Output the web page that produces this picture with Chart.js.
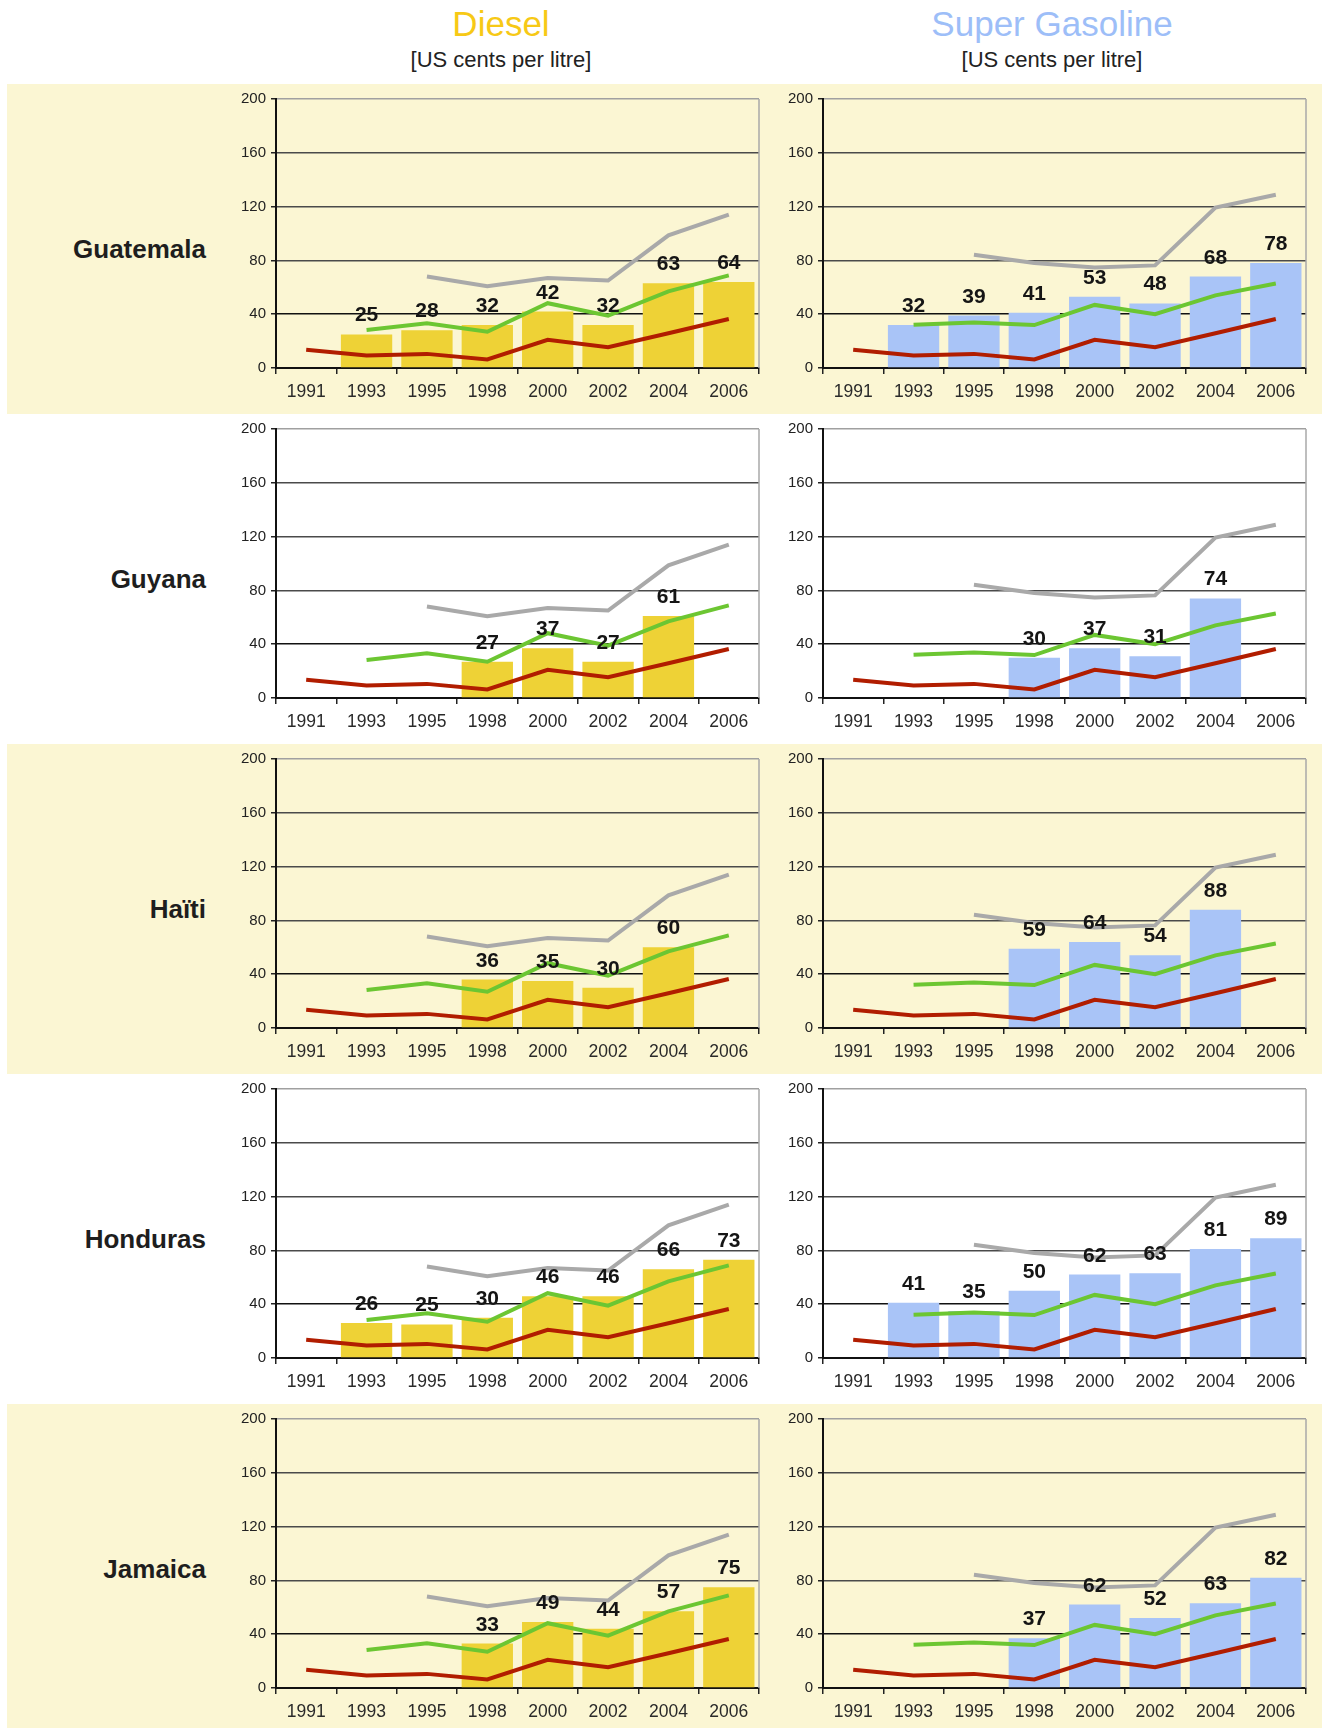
<!DOCTYPE html>
<html>
<head>
<meta charset="utf-8">
<script src="https://cdn.jsdelivr.net/npm/chart.js@4.4.1/dist/chart.umd.min.js"></script>
<style>
  html, body { margin: 0; padding: 0; background: #ffffff; }
  body { width: 1328px; height: 1728px; position: relative; overflow: hidden; font-family: "Liberation Sans", Arial, Helvetica, sans-serif; }
  .row-bg { position: absolute; left: 7px; width: 1315px; height: 330px; background: #FBF6D3; }
  .title { position: absolute; top: 3px; width: 400px; text-align: center; font-size: 35px; line-height: 42px; }
  .subtitle { position: absolute; top: 46px; width: 400px; text-align: center; font-size: 22px; line-height: 28px; color: #222; }
  .country { position: absolute; left: 0; width: 206px; text-align: right; font-size: 26px; font-weight: bold; color: #1e1e1e; line-height: 30px; }
  canvas { position: absolute; }
</style>
</head>
<body>
<div class="title" style="left:301px;color:#F7C916;">Diesel</div>
<div class="subtitle" style="left:301px;">[US cents per litre]</div>
<div class="title" style="left:852px;color:#9DBEF8;">Super Gasoline</div>
<div class="subtitle" style="left:852px;">[US cents per litre]</div>
<script>
// ---------- DATA ----------
const years = ['1991', '1993', '1995', '1998', '2000', '2002', '2004', '2006'];
const yTicks = [0, 40, 80, 120, 160, 200];
const countries = ['Guatemala', 'Guyana', 'Haïti', 'Honduras', 'Jamaica'];

// reference lines (same in every panel)
const redLine     = [13.5, 9.3, 10.5, 6.4, 21, 15.5, 25.8, 36.4];
const greenDiesel = [null, 28.3, 33.2, 27, 48.2, 38.9, 57, 68.9];
const greyDiesel  = [null, null, 68.1, 60.8, 66.9, 65, 98.6, 114];
const greenGas    = [null, 32.1, 33.9, 31.9, 46.9, 40, 54, 62.8];
const greyGas     = [null, null, 84.2, 78, 74.8, 76.3, 119.3, 128.8];

// bars
const dieselGuatemala = [null, 25, 28, 32, 42, 32, 63, 64];
const gasGuatemala    = [null, 32, 39, 41, 53, 48, 68, 78];
const dieselGuyana    = [null, null, null, 27, 37, 27, 61, null];
const gasGuyana       = [null, null, null, 30, 37, 31, 74, null];
const dieselHaiti     = [null, null, null, 36, 35, 30, 60, null];
const gasHaiti        = [null, null, null, 59, 64, 54, 88, null];
const dieselHonduras  = [null, 26, 25, 30, 46, 46, 66, 73];
const gasHonduras     = [null, 41, 35, 50, 62, 63, 81, 89];
const dieselJamaica   = [null, null, null, 33, 49, 44, 57, 75];
const gasJamaica      = [null, null, null, 37, 62, 52, 63, 82];

const dieselBars = [dieselGuatemala, dieselGuyana, dieselHaiti, dieselHonduras, dieselJamaica];
const gasBars    = [gasGuatemala, gasGuyana, gasHaiti, gasHonduras, gasJamaica];

// ---------- STYLE ----------
const FONT = '"Liberation Sans", Arial, Helvetica, sans-serif';
const DIESEL_BAR = '#EED236';
const GAS_BAR = '#A9C4F7';
const RED = '#B11D00';
const GREEN = '#6CC632';
const GREY = '#A9A9A9';

const ROW_TOP0 = 84, ROW_H = 330;
const PAD_TOP = 12, PAD_RIGHT = 12, YAXIS_W = 50, XAXIS_H = 40, PLOT_H = 271;
const CANVAS_W = YAXIS_W + 483 + PAD_RIGHT;
const CANVAS_H = PAD_TOP + PLOT_H + XAXIS_H;

Chart.defaults.font.family = FONT;
Chart.defaults.animation = false;

const borderPlugin = {
  id: 'rightBorder',
  beforeDatasetsDraw(chart) {
    const { ctx, chartArea } = chart;
    ctx.save();
    ctx.strokeStyle = '#A8A8A8';
    ctx.lineWidth = 1.5;
    ctx.beginPath();
    ctx.moveTo(chartArea.right, chartArea.top);
    ctx.lineTo(chartArea.right, chartArea.bottom);
    ctx.stroke();
    ctx.restore();
  }
};

const labelPlugin = {
  id: 'barLabels',
  afterDatasetsDraw(chart) {
    const { ctx } = chart;
    chart.data.datasets.forEach((ds, di) => {
      if (ds.type !== 'bar') return;
      const meta = chart.getDatasetMeta(di);
      meta.data.forEach((el, i) => {
        const v = ds.data[i];
        if (v === null || v === undefined) return;
        ctx.save();
        ctx.font = 'bold 21px ' + FONT;
        ctx.fillStyle = '#151515';
        ctx.textAlign = 'center';
        ctx.textBaseline = 'alphabetic';
        ctx.fillText(String(v), el.x, el.y - 13);
        ctx.restore();
      });
    });
  }
};

function gridColor(ctx) {
  const v = ctx.tick ? ctx.tick.value : null;
  if (v === 200) return '#A0A0A0';
  if (v === 40 || v === 0) return '#111111';
  return '#4a4a4a';
}

function makeChart(left, top, bars, barColor, green, grey) {
  const c = document.createElement('canvas');
  c.width = CANVAS_W; c.height = CANVAS_H;
  c.style.left = left + 'px'; c.style.top = top + 'px';
  c.style.width = CANVAS_W + 'px'; c.style.height = CANVAS_H + 'px';
  document.body.appendChild(c);
  new Chart(c, {
    type: 'bar',
    data: {
      labels: years,
      datasets: [
        { type: 'line', data: redLine, borderColor: RED, borderWidth: 4, pointRadius: 0, tension: 0, order: 1 },
        { type: 'line', data: green, borderColor: GREEN, borderWidth: 4, pointRadius: 0, tension: 0, order: 2 },
        { type: 'line', data: grey, borderColor: GREY, borderWidth: 4, pointRadius: 0, tension: 0, order: 3 },
        { type: 'bar', data: bars, backgroundColor: barColor, borderWidth: 0, barPercentage: 0.85, categoryPercentage: 1.0, order: 10 }
      ]
    },
    options: {
      responsive: false,
      animation: false,
      layout: { padding: { top: PAD_TOP, right: PAD_RIGHT, left: 0, bottom: 0 } },
      plugins: { legend: { display: false }, tooltip: { enabled: false } },
      scales: {
        x: {
          offset: true,
          grid: { offset: true, drawOnChartArea: false, drawTicks: true, tickLength: 6, color: '#222', lineWidth: 1.5 },
          border: { display: true, color: '#111', width: 2 },
          ticks: { color: '#2a2a2a', font: { size: 17.5, family: FONT }, padding: 8, maxRotation: 0, autoSkip: false },
          afterFit: s => { s.height = XAXIS_H; }
        },
        y: {
          min: 0, max: 200,
          afterBuildTicks: s => { s.ticks = yTicks.map(v => ({ value: v })); },
          grid: { color: gridColor, lineWidth: 1.5, tickLength: 5, tickColor: '#222' },
          border: { display: true, color: '#111', width: 2 },
          ticks: { color: '#222', font: { size: 15, family: FONT }, padding: 5 },
          afterFit: s => { s.width = YAXIS_W; }
        }
      }
    },
    plugins: [borderPlugin, labelPlugin]
  });
}

countries.forEach((name, r) => {
  const rowTop = ROW_TOP0 + r * ROW_H;
  if (r % 2 === 0) {
    const bg = document.createElement('div');
    bg.className = 'row-bg';
    bg.style.top = rowTop + 'px';
    document.body.appendChild(bg);
  }
  const lab = document.createElement('div');
  lab.className = 'country';
  lab.textContent = name;
  lab.style.top = (rowTop + ROW_H / 2 - 15) + 'px';
  document.body.appendChild(lab);

  const canvasTop = rowTop + 13 - PAD_TOP;
  makeChart(226, canvasTop, dieselBars[r], DIESEL_BAR, greenDiesel, greyDiesel);
  makeChart(773, canvasTop, gasBars[r], GAS_BAR, greenGas, greyGas);
});
</script>
</body>
</html>
